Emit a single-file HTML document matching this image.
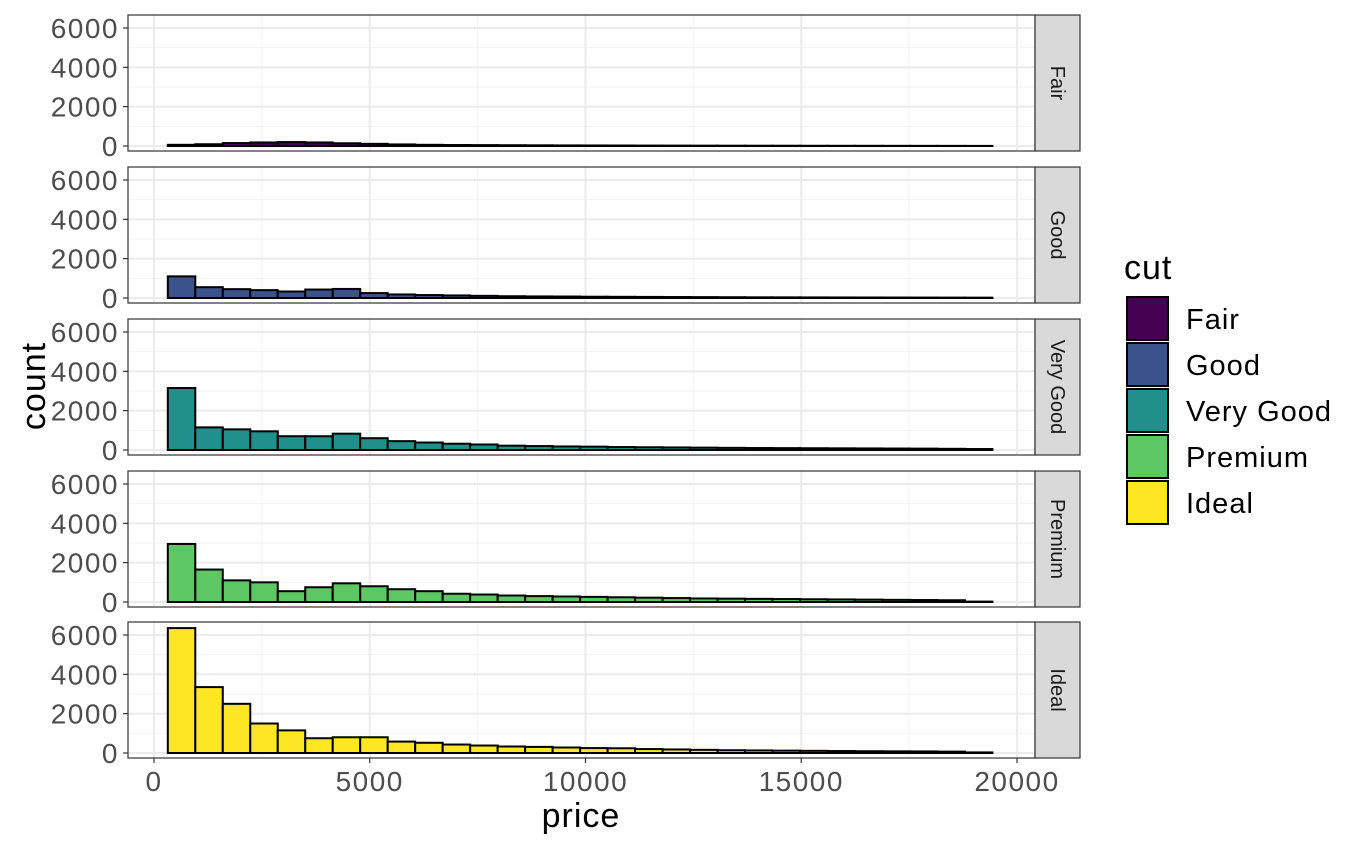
<!DOCTYPE html>
<html><head><meta charset="utf-8"><style>
body{margin:0;background:#fff}
svg{display:block;font-family:"Liberation Sans",sans-serif}
</style></head><body>
<svg id="chart" width="1368" height="845"></svg>
<script>
const cuts=["Fair","Good","Very Good","Premium","Ideal"];
const colors=["#440154","#3b528b","#21908c","#5dc863","#fde725"];
const fairCounts=[60,90,150,180,200,180,140,110,80,60,50,45,40,35,30,28,25,22,20,18,17,15,14,12,11,10,9,8,7,5];
const goodCounts=[1100,550,450,400,330,430,460,250,180,150,130,110,90,80,75,65,60,55,50,45,40,35,32,30,28,26,24,22,20,18];
const veryGoodCounts=[3150,1150,1050,950,700,700,830,600,450,380,320,280,220,200,180,170,150,140,130,120,110,100,95,90,85,80,75,70,60,50];
const premiumCounts=[2950,1650,1100,1000,550,750,950,800,650,550,420,380,330,300,280,260,240,220,200,180,170,160,150,140,130,120,110,100,90,20];
const idealCounts=[6350,3350,2500,1500,1150,750,800,800,580,520,430,380,330,310,280,250,240,200,180,160,140,130,120,110,100,90,85,80,70,30];
const allCounts=[fairCounts,goodCounts,veryGoodCounts,premiumCounts,idealCounts];
const binStart=320, binWidth=637;
const xTicks=[0,5000,10000,15000,20000];
const yTicks=[0,2000,4000,6000];

const NS="http://www.w3.org/2000/svg";
const svg=document.getElementById('chart');
function mk(tag,attrs,parent){const e=document.createElementNS(NS,tag);for(const k in attrs)e.setAttribute(k,attrs[k]);(parent||svg).appendChild(e);return e;}
const PL=128,PR=1035,PH=136,tops=[15,167,319,471,622];
const x=v=>154+v*0.04315;
function yf(top){return v=>top+131-v*0.01967;}

cuts.forEach((c,i)=>{
  const top=tops[i],y=yf(top);
  const g=mk('g',{});
  
  
  mk('rect',{x:PL,y:top,width:PR-PL,height:PH,fill:'#fff'},g);
  [2500,7500,12500,17500].forEach(v=>mk('line',{x1:x(v),x2:x(v),y1:top,y2:top+PH,stroke:'#f2f2f2','stroke-width':1},g));
  [1000,3000,5000].forEach(v=>mk('line',{x1:PL,x2:PR,y1:y(v),y2:y(v),stroke:'#f2f2f2','stroke-width':1},g));
  xTicks.forEach(v=>mk('line',{x1:x(v),x2:x(v),y1:top,y2:top+PH,stroke:'#ebebeb','stroke-width':2},g));
  yTicks.forEach(v=>mk('line',{x1:PL,x2:PR,y1:y(v),y2:y(v),stroke:'#ebebeb','stroke-width':2},g));
  allCounts[i].forEach((cnt,j)=>{
    const b=mk('rect',{x:x(binStart+j*binWidth),y:y(cnt),width:x(binStart+(j+1)*binWidth)-x(binStart+j*binWidth),height:y(0)-y(cnt),fill:colors[i],stroke:'#000','stroke-width':2},g);
    
    
  });
  mk('rect',{x:PL,y:top,width:PR-PL,height:PH,fill:'none',stroke:'#333','stroke-width':1.2},g);
  yTicks.forEach(v=>{
    mk('line',{x1:PL-5,x2:PL,y1:y(v),y2:y(v),stroke:'#333','stroke-width':1.2},g);
    const t=mk('text',{x:PL-9,y:y(v)+10,'text-anchor':'end','font-size':28,'letter-spacing':1.5,fill:'#4d4d4d'},g);t.textContent=v;
  });
  const s=mk('rect',{x:PR,y:top,width:45,height:PH,fill:'#d9d9d9',stroke:'#333','stroke-width':1.2},g);
  
  
  const st=mk('text',{x:0,y:0,'text-anchor':'middle','font-size':20,fill:'#1a1a1a',transform:`translate(${PR+16},${top+PH/2}) rotate(90)`},g);st.textContent=c;
});
const bt=tops[4]+PH;
xTicks.forEach(v=>{
  mk('line',{x1:x(v),x2:x(v),y1:bt,y2:bt+5,stroke:'#333','stroke-width':1.2});
  const t=mk('text',{x:x(v),y:bt+33,'text-anchor':'middle','font-size':28,'letter-spacing':1.5,fill:'#4d4d4d'});t.textContent=v;
  
});
const xt=mk('text',{x:581,y:827,'text-anchor':'middle','font-size':34,'letter-spacing':1,fill:'#000'});xt.textContent='price';

const yt=mk('text',{x:0,y:0,'text-anchor':'middle','font-size':34,'letter-spacing':1,fill:'#000',transform:'translate(45,386) rotate(-90)'});yt.textContent='count';

const lg=mk('g',{});

const lt=mk('text',{x:1124,y:279,'font-size':34,'letter-spacing':1,fill:'#000'},lg);lt.textContent='cut';
cuts.forEach((c,i)=>{
  const yy=297+i*46;
  const k=mk('rect',{x:1127,y:yy,width:41,height:43,fill:colors[i],stroke:'#000','stroke-width':2},lg);
  
  const t=mk('text',{x:1186,y:yy+32,'font-size':29,'letter-spacing':1,fill:'#000'},lg);t.textContent=c;
  
});
</script>
</body></html>
